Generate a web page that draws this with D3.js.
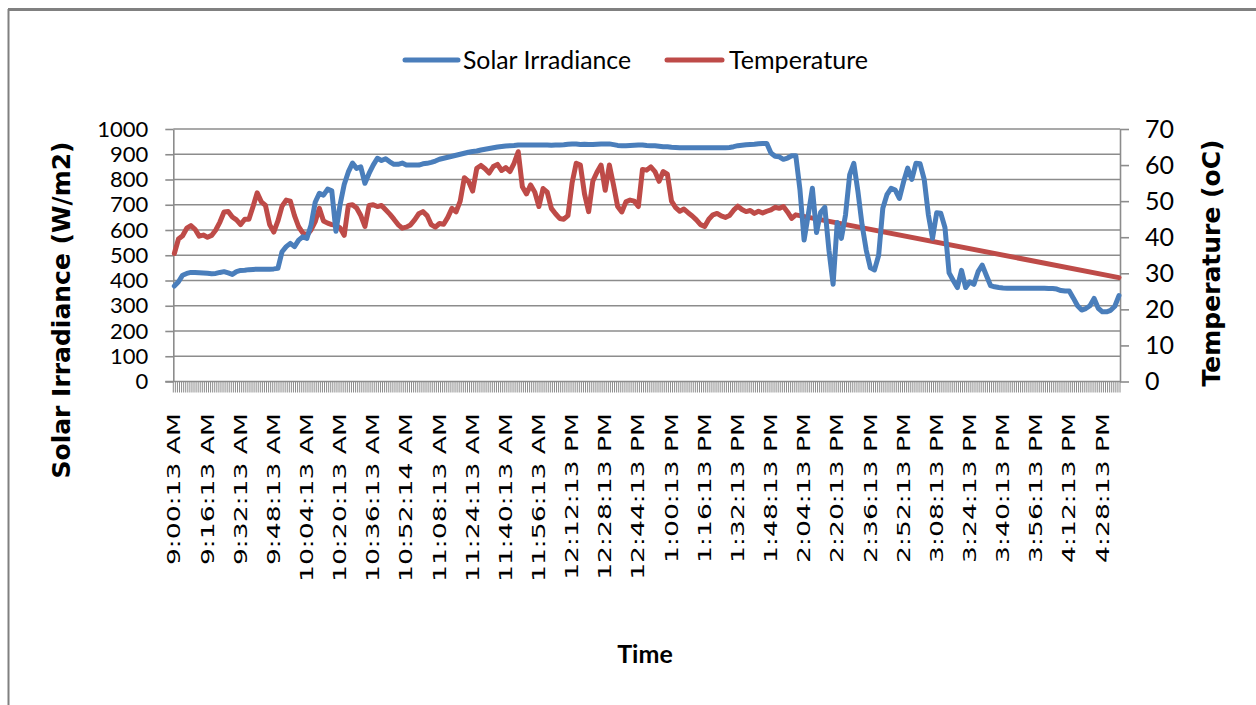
<!DOCTYPE html>
<html>
<head>
<meta charset="utf-8">
<script src="https://cdn.jsdelivr.net/npm/d3@7"></script>
<style>
  body { margin: 0; background: #fff; }
  svg { display: block; }
</style>
</head>
<body>
<svg id="chart"></svg>
<script>
// one category per minute, 9:00:13 AM .. 4:36:13 PM
const minuteCount = 457
const sampleStep = 2   // readings below are taken every 2 minutes

const tickLabels = [
  "9:00:13 AM", "9:16:13 AM", "9:32:13 AM", "9:48:13 AM", "10:04:13 AM",
  "10:20:13 AM", "10:36:13 AM", "10:52:14 AM", "11:08:13 AM", "11:24:13 AM",
  "11:40:13 AM", "11:56:13 AM", "12:12:13 PM", "12:28:13 PM", "12:44:13 PM",
  "1:00:13 PM", "1:16:13 PM", "1:32:13 PM", "1:48:13 PM", "2:04:13 PM",
  "2:20:13 PM", "2:36:13 PM", "2:52:13 PM", "3:08:13 PM", "3:24:13 PM",
  "3:40:13 PM", "3:56:13 PM", "4:12:13 PM", "4:28:13 PM"
]
const labelEvery = 16

const irradianceTicks = [0, 100, 200, 300, 400, 500, 600, 700, 800, 900, 1000]
const temperatureTicks = [0, 10, 20, 30, 40, 50, 60, 70]

// Solar Irradiance (W/m2)
const irradiance = [
  378, 395, 421, 428, 432, 432, 431, 430, 429, 427,
  428, 432, 435, 430, 424, 435, 440, 441, 443, 444,
  445, 445, 445, 445, 446, 448,
  514, 534, 547, 534, 560, 573, 567, 620, 710, 745,
  738, 762, 755, 595, 700, 780, 830, 865, 844, 850,
  785, 824, 857, 884, 875, 882, 870, 860, 860, 865,
  857, 857, 857,
  857, 862, 864, 868, 873, 880, 884, 888, 892, 896,
  900, 904, 908, 911, 913, 917, 920, 923, 926, 929,
  931, 933, 934, 935, 937, 937, 937, 937, 937, 937,
  937, 937, 936, 937, 937, 938, 940, 941, 941, 939,
  940, 939, 939, 940, 941, 941, 941, 938, 935, 934,
  934, 935, 936, 937, 937, 935, 934, 934,
  932, 930, 930, 928, 927, 926, 926, 926, 926, 926,
  926, 926, 926, 926, 926, 926, 926, 927, 930, 934,
  936, 938, 939, 940, 942, 943, 943, 905, 892, 890,
  880, 885, 894, 894,
  760, 560, 660, 765, 590, 670, 690, 520, 385, 630,
  567, 660, 818, 864, 752, 620, 520, 450, 442, 500,
  686, 740, 765,
  758, 725, 790, 845, 800, 864, 862, 800, 660, 567,
  668, 666, 610, 430, 400, 372, 440, 372, 395, 385,
  435, 461, 420, 380, 375, 372, 370, 369, 369, 369,
  369, 369, 369, 369, 369, 369, 369, 368, 368, 366,
  360, 358, 358, 330, 300, 283, 289, 300, 329, 290,
  276, 276, 282, 298, 340
]

// Temperature (oC); no readings between about 2:02 PM and the last minute
const temperature = [
  35.5, 39.5, 40.4, 42.5, 43.2, 42.2, 40.3, 40.6, 40.0, 40.5,
  42.0, 44.2, 47.0, 47.1, 45.6, 44.8, 43.5, 45.0, 45.0, 48.5,
  52.3, 49.8, 48.8, 43.5, 41.4, 44.5, 48.6, 50.3, 50.0, 46.0,
  42.9, 41.2, 40.6, 42.0, 44.3, 48.0, 44.5, 43.9, 43.5, 43.3,
  42.6, 40.5, 48.8, 49.0, 48.1, 46.0, 43.0, 48.8, 49.0, 48.5,
  48.8, 47.6, 46.4, 45.0, 43.5, 42.5, 42.8, 43.4, 44.8,
  46.5, 47.1, 46.0, 43.5, 42.8, 43.8, 43.6, 45.5, 48.0, 47.0,
  50.0, 56.5, 55.5, 52.8, 59.1, 59.9, 59.0, 57.8, 59.6, 60.2,
  58.5, 59.3, 58.2, 60.5, 63.7, 54.0, 52.0, 54.5, 52.5, 48.5,
  53.5, 52.5, 48.0, 46.5, 45.2, 45.0, 46.0, 55.0, 60.5, 60.0,
  52.0, 47.1, 55.5, 58.0, 60.0, 53.0, 60.0, 54.5, 48.5, 47.0,
  49.8, 50.3, 50.0, 48.5, 58.8, 58.6, 59.5, 58.2,
  55.5, 58.2, 57.5, 50.0, 48.2, 47.2, 47.8, 46.8, 45.9, 44.8,
  43.5, 43.0, 45.0, 46.2, 46.6, 45.9, 45.5, 46.0, 47.5, 48.6,
  47.7, 47.1, 47.4, 46.6, 47.2, 46.7, 47.2, 47.6, 48.3, 48.0,
  48.5, 47.0, 45.2, 46.2,
  null, null, null, null, null, null, null, null, null, null, null,
  null, null, null, null, null, null, null, null, null, null, null,
  null, null, null, null, null, null, null, null, null, null, null,
  null, null, null, null, null, null, null, null, null, null, null,
  null, null, null, null, null, null, null, null, null, null, null,
  null, null, null, null, null, null, null, null, null, null, null,
  null, null, null, null, null, null, null, null, null, null, null,
  28.8
]

const width = 1256, height = 705
const margin = ({top: 129, right: 136, bottom: 323.5, left: 173.3})
const blue = "#4a7ebb", red = "#be4b48", gridColor = "#8c8c8c"

const svg = d3.select("#chart")
    .attr("width", width)
    .attr("height", height)
    .attr("viewBox", [0, 0, width, height])

const x = d3.scaleBand()
    .domain(d3.range(minuteCount))
    .range([margin.left, width - margin.right])
    .padding(0)

const yL = d3.scaleLinear()
    .domain([0, 1000])
    .range([height - margin.bottom, margin.top])

const yR = d3.scaleLinear()
    .domain([0, 70])
    .range([height - margin.bottom, margin.top])

const cx = i => x(i) + x.bandwidth() / 2
const plotBottom = yL(0)

// outer frame (only top and left edges show)
svg.append("line").attr("x1", 8).attr("x2", width).attr("y1", 9.5).attr("y2", 9.5)
    .attr("stroke", "#808080").attr("stroke-width", 3)
svg.append("line").attr("x1", 8.5).attr("x2", 8.5).attr("y1", 9).attr("y2", height)
    .attr("stroke", "#808080").attr("stroke-width", 2)

// gridlines
svg.append("g")
    .attr("stroke", gridColor)
    .attr("stroke-width", 1.6)
    .selectAll("line")
    .data(irradianceTicks.filter(d => d > 0))
    .join("line")
    .attr("x1", x.range()[0])
    .attr("x2", x.range()[1])
    .attr("y1", d => yL(d))
    .attr("y2", d => yL(d))

const yAxisL = g => g
    .attr("transform", `translate(${x.range()[0]},0)`)
    .call(d3.axisLeft(yL).tickValues(irradianceTicks).tickFormat(d3.format("d"))
        .tickSize(8).tickSizeOuter(0).tickPadding(17))
    .call(g => g.selectAll("line, path").attr("stroke", gridColor).attr("stroke-width", 1.6))
    .call(g => g.selectAll("text").attr("fill", "#000"))
    .attr("font-family", "Lato, sans-serif")
    .attr("font-size", 22)

const yAxisR = g => g
    .attr("transform", `translate(${x.range()[1]},0)`)
    .call(d3.axisRight(yR).tickValues(temperatureTicks).tickFormat(d3.format("d"))
        .tickSize(9).tickSizeOuter(0).tickPadding(16))
    .call(g => g.selectAll("line, path").attr("stroke", gridColor).attr("stroke-width", 1.6))
    .call(g => g.selectAll("text").attr("fill", "#000"))
    .attr("font-family", "Lato, sans-serif")
    .attr("font-size", 25)

svg.append("g").call(yAxisL)
svg.append("g").call(yAxisR)

// category axis: a tick between every minute
const boundaries = d3.range(minuteCount + 1)
svg.append("g")
    .attr("stroke", gridColor)
    .attr("stroke-width", 1)
    .selectAll("line")
    .data(boundaries)
    .join("line")
    .attr("x1", i => i < minuteCount ? x(i) : x.range()[1])
    .attr("x2", i => i < minuteCount ? x(i) : x.range()[1])
    .attr("y1", plotBottom)
    .attr("y2", plotBottom + 11)
svg.append("line")
    .attr("x1", x.range()[0] - 8).attr("x2", x.range()[1])
    .attr("y1", plotBottom).attr("y2", plotBottom)
    .attr("stroke", gridColor).attr("stroke-width", 1.6)

svg.append("g")
    .attr("font-family", "'DejaVu Sans', sans-serif")
    .attr("font-size", 17.5)
    .attr("fill", "#000")
    .attr("text-anchor", "end")
    .selectAll("text")
    .data(tickLabels)
    .join("text")
    .attr("transform", (d, k) => `translate(${cx(k * labelEvery)},413) rotate(-90) scale(1.52,1)`)
    .attr("dy", "0.35em")
    .text(d => d)

// series
const irrPoints = irradiance.map((v, k) => [k * sampleStep, v])
const tempPoints = temperature.map((v, k) => [k * sampleStep, v]).filter(p => p[1] != null)

svg.append("path")
    .datum(tempPoints)
    .attr("fill", "none")
    .attr("stroke", red)
    .attr("stroke-width", 5)
    .attr("stroke-linejoin", "round")
    .attr("stroke-linecap", "round")
    .attr("d", d3.line().x(p => cx(p[0])).y(p => yR(p[1])))

svg.append("path")
    .datum(irrPoints)
    .attr("fill", "none")
    .attr("stroke", blue)
    .attr("stroke-width", 5)
    .attr("stroke-linejoin", "round")
    .attr("stroke-linecap", "round")
    .attr("d", d3.line().x(p => cx(p[0])).y(p => yL(p[1])))

// axis titles
svg.append("text")
    .attr("transform", "translate(70,310) rotate(-90)")
    .attr("text-anchor", "middle")
    .attr("font-family", "'DejaVu Sans', sans-serif")
    .attr("font-weight", "bold")
    .attr("font-size", 25)
    .text("Solar Irradiance (W/m2)")

svg.append("text")
    .attr("transform", "translate(1220,263) rotate(-90)")
    .attr("text-anchor", "middle")
    .attr("font-family", "'DejaVu Sans', sans-serif")
    .attr("font-weight", "bold")
    .attr("font-size", 25)
    .text("Temperature (oC)")

svg.append("text")
    .attr("x", 645)
    .attr("y", 663)
    .attr("text-anchor", "middle")
    .attr("font-family", "Lato, sans-serif")
    .attr("font-weight", "bold")
    .attr("font-size", 25)
    .text("Time")

// legend
const legend = [
  {name: "Solar Irradiance", color: blue, x0: 405, x1: 458, tx: 463, len: 168},
  {name: "Temperature", color: red, x0: 667, x1: 722, tx: 729, len: 139}
]
const lg = svg.append("g")
lg.selectAll("line")
    .data(legend)
    .join("line")
    .attr("x1", d => d.x0).attr("x2", d => d.x1)
    .attr("y1", 60).attr("y2", 60)
    .attr("stroke", d => d.color)
    .attr("stroke-width", 5)
    .attr("stroke-linecap", "round")
lg.selectAll("text")
    .data(legend)
    .join("text")
    .attr("x", d => d.tx)
    .attr("y", 69)
    .attr("font-family", "Lato, sans-serif")
    .attr("font-size", 25)
    .attr("textLength", d => d.len)
    .attr("lengthAdjust", "spacingAndGlyphs")
    .text(d => d.name)
</script>
</body>
</html>
